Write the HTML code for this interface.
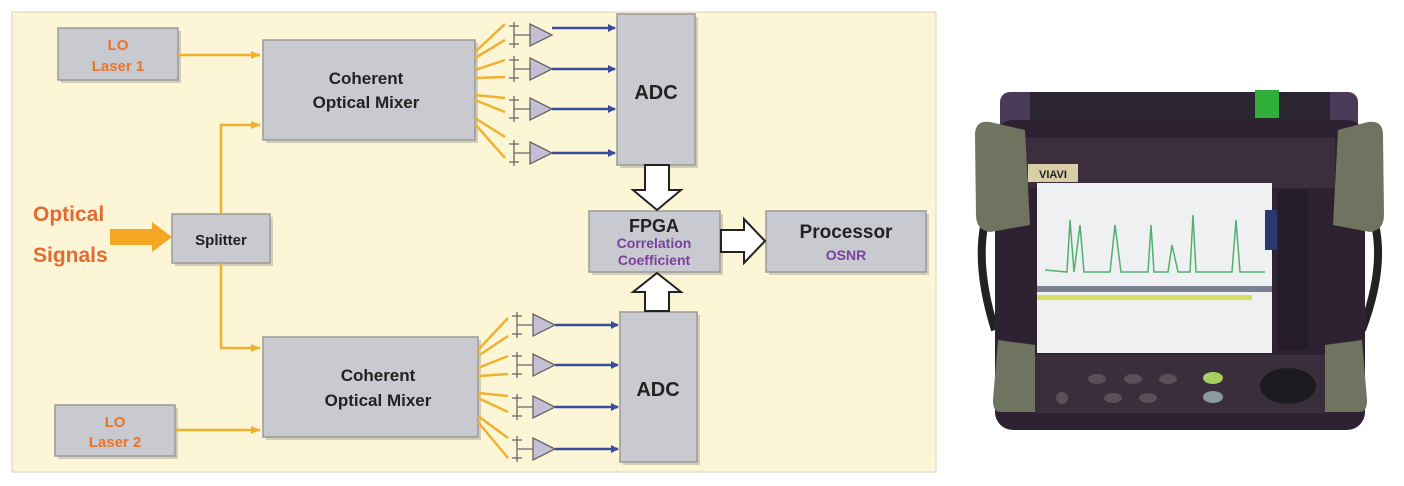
<!DOCTYPE html>
<html><head><meta charset="utf-8"><style>
html,body{margin:0;padding:0;background:#fff;width:1404px;height:486px;overflow:hidden}
text{font-family:"Liberation Sans",sans-serif;font-weight:bold}
</style></head><body>
<svg width="1404" height="486" viewBox="0 0 1404 486" xmlns="http://www.w3.org/2000/svg">
<defs>
<marker id="bl" markerWidth="8" markerHeight="8" refX="7" refY="4" orient="auto" markerUnits="userSpaceOnUse"><path d="M0,0 L8,4 L0,8 Z" fill="#3a4d9a"/></marker>
<marker id="or" markerWidth="10" markerHeight="10" refX="9" refY="5" orient="auto" markerUnits="userSpaceOnUse"><path d="M0,1 L10,5 L0,9 Z" fill="#f0b030"/></marker>
</defs>
<rect x="12" y="12" width="924" height="460" fill="#fdf6d6" stroke="#d8d4c0"/>
<g fill="#b8b4a0" opacity="0.6">
<rect x="61" y="31" width="120" height="52"/><rect x="58" y="408" width="120" height="51"/>
<rect x="266" y="43" width="212" height="100"/><rect x="266" y="340" width="215" height="100"/>
<rect x="175" y="217" width="98" height="49"/><rect x="620" y="17" width="78" height="151"/>
<rect x="623" y="315" width="77" height="150"/><rect x="592" y="214" width="131" height="61"/>
<rect x="769" y="214" width="160" height="61"/>
</g>
<g fill="#c8cacf" stroke="#9a9a9a" stroke-width="1.5">
<rect x="58" y="28" width="120" height="52"/>
<rect x="55" y="405" width="120" height="51"/>
<rect x="263" y="40" width="212" height="100"/>
<rect x="263" y="337" width="215" height="100"/>
<rect x="172" y="214" width="98" height="49"/>
<rect x="617" y="14" width="78" height="151"/>
<rect x="620" y="312" width="77" height="150"/>
<rect x="589" y="211" width="131" height="61"/>
<rect x="766" y="211" width="160" height="61"/>
</g>
<g text-anchor="middle" fill="#e8742e">
<text x="118" y="50" font-size="15">LO</text><text x="118" y="71" font-size="15">Laser 1</text>
<text x="115" y="427" font-size="15">LO</text><text x="115" y="447" font-size="15">Laser 2</text>
</g>
<g text-anchor="middle" fill="#222" font-size="17">
<text x="366" y="84">Coherent</text><text x="366" y="108">Optical Mixer</text>
<text x="378" y="381">Coherent</text><text x="378" y="406">Optical Mixer</text>
<text x="221" y="245" font-size="15">Splitter</text>
<text x="656" y="99" font-size="20">ADC</text>
<text x="658" y="396" font-size="20">ADC</text>
<text x="654" y="232" font-size="18">FPGA</text>
<text x="846" y="238" font-size="19">Processor</text>
</g>
<g text-anchor="middle" fill="#7a3fa0" font-size="14">
<text x="654" y="248">Correlation</text><text x="654" y="265">Coefficient</text>
<text x="846" y="260">OSNR</text>
</g>
<text x="33" y="221" font-size="21" fill="#e46a34">Optical</text>
<text x="33" y="262" font-size="21" fill="#e46a34">Signals</text>
<path d="M110,229 H152 V222 L172,237 L152,252 V245 H110 Z" fill="#f5a623"/>
<g stroke="#f0b030" stroke-width="2.5" fill="none">
<line x1="178" y1="55" x2="260" y2="55" marker-end="url(#or)"/>
<line x1="175" y1="430" x2="260" y2="430" marker-end="url(#or)"/>
<polyline points="221,214 221,125 260,125" marker-end="url(#or)"/>
<polyline points="221,263 221,348 260,348" marker-end="url(#or)"/>
</g>
<g stroke="#f0b030" stroke-width="2.5">
<line x1="475" y1="52" x2="505" y2="24"/><line x1="475" y1="58" x2="505" y2="40"/>
<line x1="475" y1="70" x2="505" y2="60"/><line x1="475" y1="78" x2="505" y2="77"/>
<line x1="475" y1="95" x2="505" y2="98"/><line x1="475" y1="100" x2="505" y2="112"/>
<line x1="475" y1="118" x2="505" y2="137"/><line x1="475" y1="124" x2="505" y2="158"/>
<line x1="478" y1="350" x2="508" y2="318"/><line x1="478" y1="356" x2="508" y2="336"/>
<line x1="478" y1="368" x2="508" y2="356"/><line x1="478" y1="376" x2="508" y2="374"/>
<line x1="478" y1="393" x2="508" y2="396"/><line x1="478" y1="398" x2="508" y2="412"/>
<line x1="478" y1="416" x2="508" y2="438"/><line x1="478" y1="422" x2="508" y2="458"/>
</g>
<g stroke="#666" stroke-width="1.3" fill="#c4bfd4">
<path d="M514,22 V48 M509,26 H519 M509,44 H519 M514,35 H530"/><path d="M530,24 L552,35 L530,46 Z"/>
<path d="M514,56 V82 M509,60 H519 M509,78 H519 M514,69 H530"/><path d="M530,58 L552,69 L530,80 Z"/>
<path d="M514,96 V122 M509,100 H519 M509,118 H519 M514,109 H530"/><path d="M530,98 L552,109 L530,120 Z"/>
<path d="M514,140 V166 M509,144 H519 M509,162 H519 M514,153 H530"/><path d="M530,142 L552,153 L530,164 Z"/>
<path d="M517,312 V338 M512,316 H522 M512,334 H522 M517,325 H533"/><path d="M533,314 L555,325 L533,336 Z"/>
<path d="M517,352 V378 M512,356 H522 M512,374 H522 M517,365 H533"/><path d="M533,354 L555,365 L533,376 Z"/>
<path d="M517,394 V420 M512,398 H522 M512,416 H522 M517,407 H533"/><path d="M533,396 L555,407 L533,418 Z"/>
<path d="M517,436 V462 M512,440 H522 M512,458 H522 M517,449 H533"/><path d="M533,438 L555,449 L533,460 Z"/>
</g>
<g stroke="#3a4d9a" stroke-width="2.5" marker-end="url(#bl)">
<line x1="552" y1="28" x2="615" y2="28"/><line x1="552" y1="69" x2="615" y2="69"/>
<line x1="552" y1="109" x2="615" y2="109"/><line x1="552" y1="153" x2="615" y2="153"/>
<line x1="555" y1="325" x2="618" y2="325"/><line x1="555" y1="365" x2="618" y2="365"/>
<line x1="555" y1="407" x2="618" y2="407"/><line x1="555" y1="449" x2="618" y2="449"/>
</g>
<g fill="#fff" stroke="#222" stroke-width="2">
<path d="M645,165 H669 V190 H681 L657,210 L633,190 H645 Z"/>
<path d="M645,311 H669 V292 H681 L657,273 L633,292 H645 Z"/>
<path d="M721,230 H744 V219 L765,241 L744,263 V252 H721 Z"/>
</g>
<g>
<rect x="1000" y="92" width="40" height="320" rx="10" fill="#4a3a5a"/>
<rect x="1318" y="92" width="40" height="320" rx="10" fill="#4a3a5a"/>
<path d="M992,200 Q970,250 995,330" stroke="#222" stroke-width="8" fill="none"/>
<path d="M1366,200 Q1392,250 1362,330" stroke="#222" stroke-width="8" fill="none"/>
<rect x="1030" y="92" width="300" height="40" fill="#2a2530"/>
<rect x="1255" y="90" width="24" height="28" fill="#2fae3a"/>
<rect x="995" y="120" width="370" height="310" rx="18" fill="#2e2232"/>
<rect x="1025" y="138" width="310" height="50" fill="#3d2e3f"/>
<rect x="1028" y="164" width="50" height="18" fill="#d8cfa8"/>
<text x="1053" y="178" font-size="11" text-anchor="middle" fill="#222" font-family="Liberation Serif">VIAVI</text>
<rect x="1037" y="183" width="235" height="170" fill="#eef0f2"/>
<rect x="1037" y="286" width="235" height="6" fill="#7a8090"/>
<rect x="1037" y="295" width="215" height="5" fill="#d8dd60"/>
<rect x="1265" y="210" width="12" height="40" fill="#2a3a70"/>
<polyline points="1045,270 1067,272 1070,220 1074,272 1080,225 1084,272 1110,272 1115,225 1121,272 1148,272 1151,225 1154,272 1168,272 1172,245 1178,272 1190,272 1193,215 1196,272 1232,272 1236,220 1240,272 1265,272" stroke="#50b070" stroke-width="1.5" fill="none"/>
<rect x="1278" y="190" width="30" height="160" fill="#241c28"/>
<path d="M975,135 Q975,120 990,122 L1025,130 L1030,225 L990,232 Q976,230 976,215 Z" fill="#6e7460"/>
<path d="M1383,135 Q1383,120 1368,122 L1338,130 L1333,225 L1370,232 Q1384,230 1384,215 Z" fill="#6e7460"/>
<path d="M998,340 L1035,345 L1035,412 L1000,412 Q993,412 993,400 Z" fill="#6e7460"/>
<path d="M1362,340 L1325,345 L1325,412 L1360,412 Q1367,412 1367,400 Z" fill="#6e7460"/>
<rect x="1035" y="355" width="290" height="58" fill="#3a2e3c"/>
<ellipse cx="1288" cy="386" rx="28" ry="18" fill="#1d1a20"/>
<ellipse cx="1213" cy="378" rx="10" ry="6" fill="#a8d060"/>
<ellipse cx="1213" cy="397" rx="10" ry="6" fill="#8a9aa0"/>
<g fill="#5a5058"><ellipse cx="1097" cy="379" rx="9" ry="5"/><ellipse cx="1133" cy="379" rx="9" ry="5"/><ellipse cx="1168" cy="379" rx="9" ry="5"/><ellipse cx="1113" cy="398" rx="9" ry="5"/><ellipse cx="1148" cy="398" rx="9" ry="5"/><ellipse cx="1062" cy="398" rx="6" ry="6"/></g>
</g>
</svg>
</body></html>
